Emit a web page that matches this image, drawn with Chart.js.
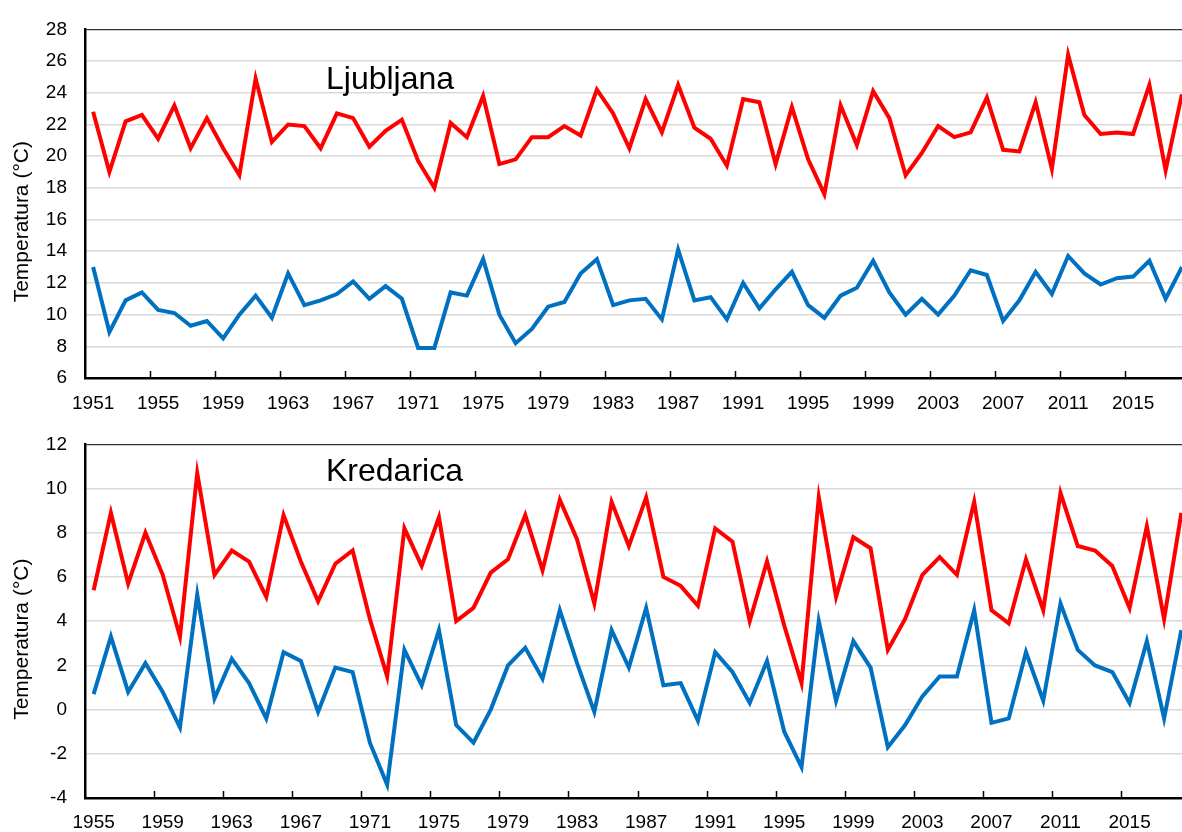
<!DOCTYPE html>
<html>
<head>
<meta charset="utf-8">
<script src="https://cdn.jsdelivr.net/npm/chart.js@4.4.1/dist/chart.umd.min.js"></script>
<style>
html, body { margin: 0; padding: 0; overflow: hidden; background: #fff; }
#wrap { position: relative; width: 1182px; height: 832px; overflow: hidden; }
canvas { position: absolute; left: 0; }
#c1 { top: 0; }
#c2 { top: 415px; }
</style>
</head>
<body>
<div id="wrap">
  <canvas id="c1" width="1190" height="415"></canvas>
  <canvas id="c2" width="1190" height="417"></canvas>
</div>
<script>
// years
var yearsLj = ["1951","1952","1953","1954","1955","1956","1957","1958","1959","1960",
	"1961","1962","1963","1964","1965","1966","1967","1968","1969","1970",
	"1971","1972","1973","1974","1975","1976","1977","1978","1979","1980",
	"1981","1982","1983","1984","1985","1986","1987","1988","1989","1990",
	"1991","1992","1993","1994","1995","1996","1997","1998","1999","2000",
	"2001","2002","2003","2004","2005","2006","2007","2008","2009","2010",
	"2011","2012","2013","2014","2015","2016","2017","2018"];
var yearsKr = ["1955","1956","1957","1958","1959","1960",
	"1961","1962","1963","1964","1965","1966","1967","1968","1969","1970",
	"1971","1972","1973","1974","1975","1976","1977","1978","1979","1980",
	"1981","1982","1983","1984","1985","1986","1987","1988","1989","1990",
	"1991","1992","1993","1994","1995","1996","1997","1998","1999","2000",
	"2001","2002","2003","2004","2005","2006","2007","2008","2009","2010",
	"2011","2012","2013","2014","2015","2016","2017","2018"];

// Ljubljana (red upper, blue lower)
var ljRed = [22.8, 19.0, 22.2, 22.6, 21.1, 23.2, 20.5, 22.4, 20.5, 18.8,
	24.9, 20.9, 22.0, 21.9, 20.5, 22.7, 22.4, 20.6, 21.6, 22.3,
	19.7, 18.0, 22.1, 21.2, 23.8, 19.5, 19.8, 21.2, 21.2, 21.9,
	21.3, 24.2, 22.7, 20.5, 23.6, 21.5, 24.5, 21.8, 21.1, 19.4,
	23.6, 23.4, 19.5, 23.1, 19.8, 17.6, 23.2, 20.7, 24.1, 22.4,
	18.8, 20.2, 21.9, 21.2, 21.5, 23.7, 20.4, 20.3, 23.4, 19.2,
	26.4, 22.6, 21.4, 21.5, 21.4, 24.5, 19.1, 23.9];
var ljBlue = [13.0, 8.9, 10.9, 11.4, 10.3, 10.1, 9.3, 9.6, 8.5, 10.0,
	11.2, 9.8, 12.6, 10.6, 10.9, 11.3, 12.1, 11.0, 11.8, 11.0,
	7.9, 7.9, 11.4, 11.2, 13.5, 10.0, 8.2, 9.1, 10.5, 10.8,
	12.6, 13.5, 10.6, 10.9, 11.0, 9.7, 14.1, 10.9, 11.1, 9.7,
	12.0, 10.4, 11.6, 12.7, 10.6, 9.8, 11.2, 11.7, 13.4, 11.4,
	10.0, 11.0, 10.0, 11.2, 12.8, 12.5, 9.6, 10.9, 12.7, 11.3,
	13.7, 12.6, 11.9, 12.3, 12.4, 13.4, 11.0, 13.0];

// Kredarica
var krRed = [5.4, 8.9, 5.7, 8.0, 6.1, 3.3, 10.7, 6.1, 7.2, 6.7,
	5.1, 8.8, 6.7, 4.9, 6.6, 7.2, 4.1, 1.5, 8.2, 6.5,
	8.7, 4.0, 4.6, 6.2, 6.8, 8.8, 6.3, 9.5, 7.7, 4.8,
	9.4, 7.4, 9.6, 6.0, 5.6, 4.7, 8.2, 7.6, 4.0, 6.7,
	3.8, 1.2, 9.6, 5.1, 7.8, 7.3, 2.7, 4.1, 6.1, 6.9,
	6.1, 9.4, 4.5, 3.9, 6.8, 4.5, 9.8, 7.4, 7.2, 6.5,
	4.6, 8.3, 4.1, 8.9];
var krBlue = [0.7, 3.3, 0.8, 2.1, 0.8, -0.8, 5.2, 0.5, 2.3, 1.2,
	-0.4, 2.6, 2.2, -0.1, 1.9, 1.7, -1.5, -3.4, 2.7, 1.1,
	3.6, -0.7, -1.5, 0.0, 2.0, 2.8, 1.4, 4.5, 2.1, -0.1,
	3.6, 1.9, 4.6, 1.1, 1.2, -0.5, 2.6, 1.7, 0.3, 2.2,
	-1.0, -2.6, 4.0, 0.4, 3.1, 1.9, -1.7, -0.7, 0.6, 1.5,
	1.5, 4.5, -0.6, -0.4, 2.6, 0.4, 4.8, 2.7, 2.0, 1.7,
	0.3, 3.1, -0.4, 3.6];

var FONT = '"Liberation Sans", Arial, Helvetica, sans-serif';

// short tick marks inside the plot, station name, y axis title
var panelExtras = {
	id: 'panelExtras',
	afterDraw: function(chart, args, opts) {
		var ctx = chart.ctx, area = chart.chartArea, xs = chart.scales.x;
		ctx.save();
		ctx.strokeStyle = '#000';
		ctx.lineWidth = 1.5;
		for (var i = 4; i < chart.data.labels.length; i += 4) {
			var px = Math.round(xs.getPixelForValue(i - 0.5)) + 0.5;
			ctx.beginPath();
			ctx.moveTo(px, area.bottom);
			ctx.lineTo(px, area.bottom - 7);
			ctx.stroke();
		}
		ctx.fillStyle = '#000';
		ctx.font = '32px ' + FONT;
		ctx.textBaseline = 'alphabetic';
		ctx.fillText(opts.text, area.left + 241, area.top + opts.dy);

		// y axis title, sits a little below the middle like the original
		ctx.font = '21px ' + FONT;
		ctx.textAlign = 'center';
		ctx.textBaseline = 'middle';
		ctx.translate(22, (area.top + area.bottom) / 2 + 18);
		ctx.rotate(-Math.PI / 2);
		ctx.fillText('Temperatura (°C)', 0, 0);
		ctx.restore();
	}
};

function makeChart(id, labels, red, blue, yMin, yMax, padTop, xHeight, labelPad, name, nameDy) {
	var canvas = document.getElementById(id).getContext('2d');
	return new Chart(canvas, {
		type: 'line',
		data: {
			labels: labels,
			datasets: [{
				data: blue,
				borderColor: "#0070C0",
				borderWidth: 4,
				pointRadius: 0,
				tension: 0
			}, {
				data: red,
				borderColor: "#FF0000",
				borderWidth: 4,
				pointRadius: 0,
				tension: 0
			}]
		},
		options: {
			responsive: false,
			animation: false,
			layout: { padding: { top: padTop, left: 0, right: 0, bottom: 0 } },
			plugins: {
				legend: { display: false },
				tooltip: { enabled: false },
				panelExtras: { text: name, dy: nameDy }
			},
			scales: {
				x: {
					offset: true,
					grid: { display: false, offset: true },
					border: { display: true, color: '#000', width: 2.5 },
					ticks: {
						autoSkip: false,
						maxRotation: 0,
						color: '#000',
						padding: labelPad,
						font: { family: FONT, size: 19 },
						callback: function(v, i) {
							return i % 4 === 0 ? this.getLabelForValue(v) : '';
						}
					},
					afterFit: function(s) { s.height = xHeight; }
				},
				y: {
					min: yMin,
					max: yMax,
					ticks: {
						stepSize: 2,
						color: '#000',
						padding: 18,
						font: { family: FONT, size: 19 }
					},
					grid: {
						drawTicks: false,
						color: function(c) { return c.tick && c.tick.value === yMax ? '#333' : '#d9d9d9'; },
						lineWidth: function(c) { return c.tick && c.tick.value === yMax ? 1.2 : 1.5; }
					},
					border: { display: true, color: '#000', width: 2.5 },
					afterFit: function(s) { s.width = 85; }
				}
			}
		},
		plugins: [panelExtras]
	});
}

makeChart('c1', yearsLj, ljRed, ljBlue, 6, 28, 22, 37, 6, 'Ljubljana', 60);
makeChart('c2', yearsKr, krRed, krBlue, -4, 12, 28, 34, 5, 'Kredarica', 37);
</script>
</body>
</html>
